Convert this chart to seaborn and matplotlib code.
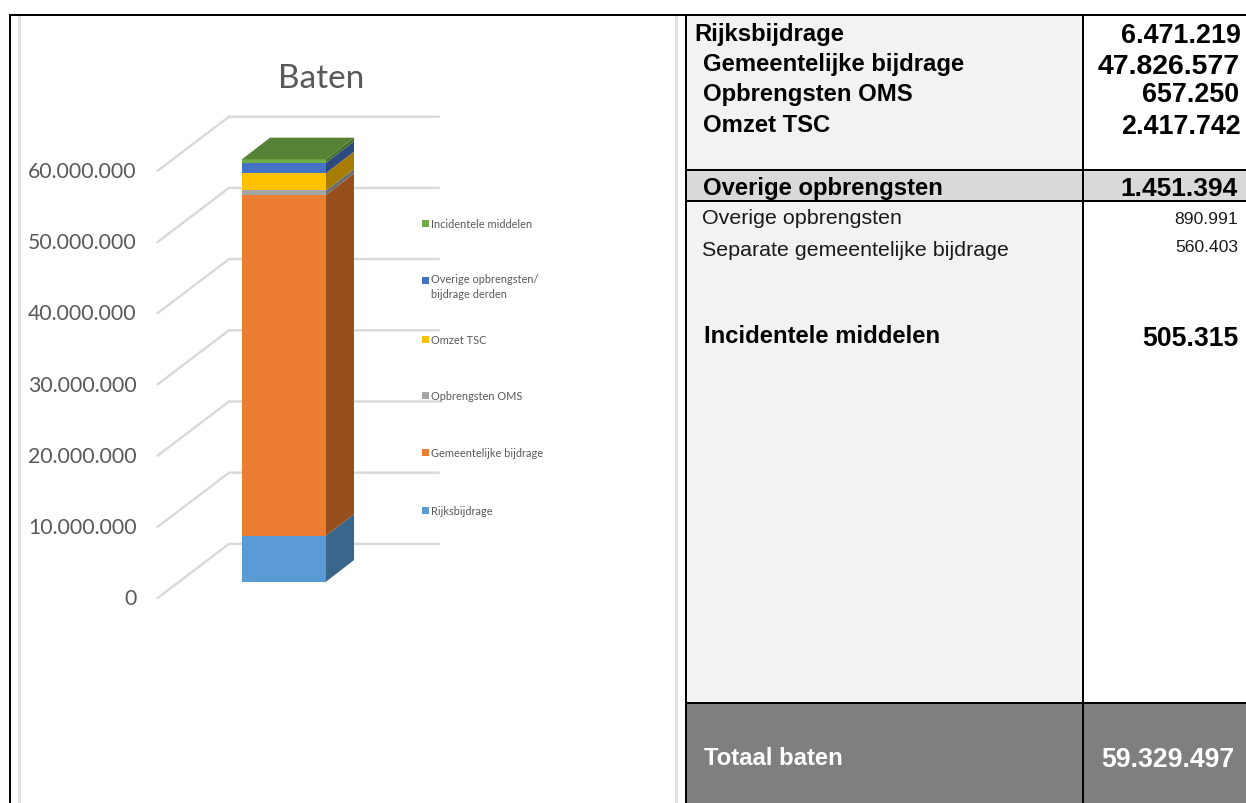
import matplotlib
matplotlib.use("Agg")
import matplotlib.pyplot as plt
import seaborn as sns
from matplotlib.patches import Rectangle

# --- DATA ---
segment_names = ["Rijksbijdrage", "Gemeentelijke bijdrage", "Opbrengsten OMS", "Omzet TSC",
                 "Overige opbrengsten/\nbijdrage derden", "Incidentele middelen"]
segment_values = [6471219, 47826577, 657250, 2417742, 1451394, 505315]
y_ticks = [0, 10000000, 20000000, 30000000, 40000000, 50000000, 60000000]

top_labels = ["Rijksbijdrage", "Gemeentelijke bijdrage", "Opbrengsten OMS", "Omzet TSC"]
top_values = ["6.471.219", "47.826.577", "657.250", "2.417.742"]
sub_labels = ["Overige opbrengsten", "Separate gemeentelijke bijdrage"]
sub_values = ["890.991", "560.403"]

# --- STYLE ---
front_colors = ["#5b9bd5", "#ed7d31", "#a5a5a5", "#ffc000", "#4472c4", "#70ad47"]
side_colors = ["#3a668c", "#974f1c", "#6e6e6e", "#a67d00", "#2b4a80", "#47702f"]
top_color = "#568235"
grid_color = "#d9d9d9"
text_grey = "#595959"
chart_font = "Lato"
table_font = "Liberation Sans"

W, H = 1246, 804
PX_PER_UNIT = 84.0          # bar width in pixels
PX_PER_VALUE = 71.2 / 1e7   # pixels per euro
BAR_X = 284.0               # bar centre
BAR_BASE = 582.7            # bar bottom


def px_x(x):
    return (x - BAR_X) / PX_PER_UNIT


def px_h(h):
    return h / PX_PER_VALUE


sns.set_theme(style="white")
fig = plt.figure(figsize=(W / 100, H / 100), dpi=100, facecolor="white")

# --- CHART ---
ax = fig.add_axes([0, 0, 1, 1])
bottom = 0
depth_x, depth_y = 28 / PX_PER_UNIT, px_h(21.6)
for value, front, side in zip(segment_values, front_colors, side_colors):
    sns.barplot(x=["Baten"], y=[value], bottom=bottom, color=front, saturation=1,
                width=1, linewidth=0, ax=ax, zorder=3)
    ax.fill([0.5, 0.5 + depth_x, 0.5 + depth_x, 0.5],
            [bottom, bottom + depth_y, bottom + value + depth_y, bottom + value],
            color=side, lw=0, zorder=3)
    bottom += value
ax.fill([-0.5, 0.5, 0.5 + depth_x, -0.5 + depth_x],
        [bottom, bottom, bottom + depth_y, bottom + depth_y],
        color=top_color, lw=0, zorder=3)

# walls of the 3D box
wall_left, wall_back, wall_right = px_x(157.5), px_x(229), px_x(439)
front_drop, back_rise = px_h(16.4), px_h(37.8)
for tick in y_ticks:
    ax.plot([wall_left, wall_back, wall_right],
            [tick - front_drop, tick + back_rise, tick + back_rise],
            color=grid_color, lw=1.7, zorder=1, solid_joinstyle="miter")
    ax.text(px_x(136.5), tick - front_drop, f"{tick:,}".replace(",", "."), ha="right",
            va="center", fontsize=15.3, color=text_grey, family=chart_font)

ax.set_xlim(px_x(0), px_x(W))
ax.set_ylim(-px_h(H - BAR_BASE), px_h(BAR_BASE))
ax.axis("off")

# --- OVERLAY IN PIXELS: frame, title, legend, table ---
ov = fig.add_axes([0, 0, 1, 1], facecolor="none")
ov.set_xlim(0, W)
ov.set_ylim(H, 0)
ov.axis("off")


def box(x0, y0, x1, y1, color, z=0):
    ov.add_patch(Rectangle((x0, y0), x1 - x0, y1 - y0, color=color, lw=0, zorder=z))


ov.text(321, 78.5, "Baten", ha="center", va="center", fontsize=24, color=text_grey, family=chart_font)

legend_y = [511, 453, 396, 340, 281, 224]
for name, color, y in zip(segment_names, front_colors, legend_y):
    box(422, y - 3.5, 429, y + 3.5, color, 2)
    if "\n" in name:
        ov.text(431, y - 6.5, name, ha="left", va="top", fontsize=7.9,
                color=text_grey, family=chart_font, linespacing=1.4)
    else:
        ov.text(431, y + 0.5, name, ha="left", va="center", fontsize=7.9,
                color=text_grey, family=chart_font)

# table fills
box(686, 16, 1083, 170, "#f2f2f2")
box(686, 171, 1246, 202, "#d9d9d9")
box(686, 202, 1083, 703, "#f2f2f2")
box(686, 703, 1246, H, "#7f7f7f")

# frame and rules
box(18, 16, 21, H, "#e3e3e3", 1)
box(675, 16, 678, H, "#e3e3e3", 1)
box(9, 15, W, 17, "black", 2)
box(9, 15, 11, H, "black", 2)
box(684.5, 15, 686.5, H, "black", 2)
box(1082, 15, 1084, H, "black", 2)
box(686, 169.7, W, 171.9, "black", 2)
box(686, 201, W, 203, "black", 2)
box(686, 702.5, W, 704.5, "black", 2)


def cell(x, y, s, ha="left", size=17.2, weight="bold", color="black"):
    ov.text(x, y, s, ha=ha, va="center", fontsize=size, fontweight=weight, color=color,
            family=table_font, zorder=3)


for x, y, s in zip([694, 703, 703, 703], [35, 65, 94, 126], top_labels):
    cell(x, y, s)
for x, y, s, size in zip([1241, 1240, 1239, 1241], [36, 67, 95, 127], top_values, [19.4, 20.4, 19.4, 19.4]):
    cell(x, y, s, ha="right", size=size)

cell(703, 188, "Overige opbrengsten")
cell(1238, 189, "1.451.394", ha="right", size=19)

for y, s, v, yv in zip([219, 250], sub_labels, sub_values, [219, 248]):
    cell(702, y, s, size=15.4, weight="normal", color="#1a1a1a")
    cell(1238, yv, v, ha="right", size=12.6, weight="normal", color="#1a1a1a")

cell(704, 337, segment_names[5])
cell(1239, 339, f"{segment_values[5]:,}".replace(",", "."), ha="right", size=19.2)

cell(704, 759, "Totaal baten", color="white")
cell(1234, 760, f"{sum(segment_values):,}".replace(",", "."), ha="right", size=19.2, color="white")

fig.savefig("out.png", dpi=100)
